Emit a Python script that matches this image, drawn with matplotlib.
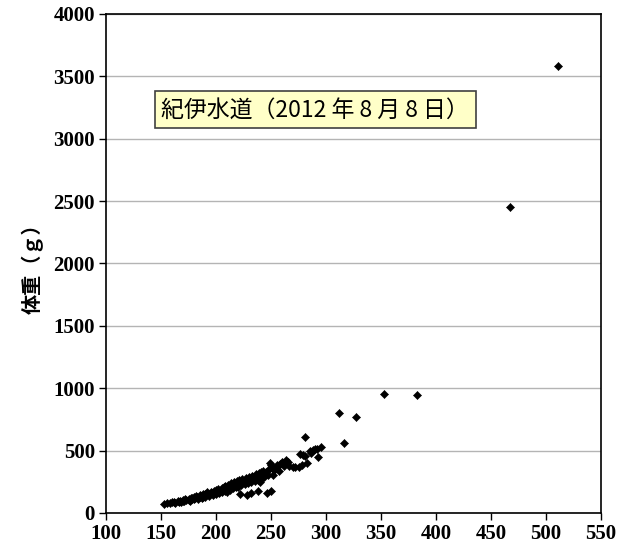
import matplotlib
matplotlib.use("Agg")
import matplotlib.pyplot as plt

# Body length (mm) and body weight (g) of individual fish
length_mm = [
    153, 155, 158, 160, 162, 163, 165, 166, 167, 168, 170, 170, 171, 172, 173,
    175, 175, 176, 177, 178, 178, 180, 180, 181, 182, 183, 184, 185, 185, 186,
    187, 188, 188, 189, 190, 190, 191, 192, 193, 194, 195, 195, 196, 197, 198,
    199, 200, 200, 201, 202, 203, 204, 205, 205, 206, 207, 208, 208, 209, 210,
    210, 211, 212, 213, 214, 215, 215, 216, 217, 218, 219, 220, 220, 221, 222,
    223, 224, 225, 226, 227, 228, 229, 230, 231, 232, 233, 234, 235, 236, 237,
    238, 239, 240, 240, 241, 241, 242, 243, 244, 245, 247, 248, 249, 250, 251,
    252, 253, 254, 255, 256, 257, 258, 260, 262, 264, 265, 266, 270, 272, 275,
    276, 278, 279, 281, 283, 285, 286, 288, 290, 292, 293, 295,
    228, 232, 238, 246, 250, 222,
    281, 312, 316, 327, 353, 383, 467, 511,
]
weight_g = [
    72, 80, 82, 85, 90, 80, 95, 88, 100, 92, 95, 105, 100, 110, 102,
    105, 115, 98, 120, 112, 122, 110, 128, 118, 135, 125, 115, 130, 145, 138,
    122, 150, 132, 140, 155, 130, 145, 165, 150, 138, 158, 172, 160, 148, 178,
    165, 155, 185, 172, 195, 160, 180, 200, 168, 188, 210, 175, 220, 192, 205,
    172, 228, 210, 188, 238, 215, 198, 248, 225, 205, 258, 235, 212, 265, 242,
    222, 272, 250, 232, 282, 260, 240, 292, 268, 248, 300, 278, 258, 310, 285,
    265, 322, 295, 250, 275, 330, 305, 338, 290, 330, 308, 350, 398, 385, 360,
    305, 345, 355, 385, 375, 340, 395, 405, 380, 425, 410, 377, 366, 372, 371,
    470, 385, 465, 455, 403, 497, 480, 505, 510, 513, 451, 529,
    144, 160, 175, 163, 180, 150,
    612, 804, 561, 770, 954, 946, 2453, 3583,
]

x_ticks = [100, 150, 200, 250, 300, 350, 400, 450, 500, 550]
y_ticks = [0, 500, 1000, 1500, 2000, 2500, 3000, 3500, 4000]
y_label = "体重（ｇ）"
title = "紀伊水道（2012 年 8 月 8 日）"

fig = plt.figure(figsize=(6.31, 5.51), dpi=100)
ax = fig.add_axes([0.168, 0.069, 0.7845, 0.9056])

ax.scatter(length_mm, weight_g, marker="D", s=17, color="black",
           edgecolors="black", linewidths=0.4, zorder=3)

ax.set_xlim(100, 550)
ax.set_ylim(0, 4000)
ax.set_xticks(x_ticks)
ax.set_yticks(y_ticks)

ax.yaxis.grid(True, color="#b4b4b4", linewidth=1.0)
ax.set_axisbelow(True)
for sp in ax.spines.values():
    sp.set_color("black")
    sp.set_linewidth(1.2)

ax.tick_params(axis="both", direction="out", length=5, width=1.0,
               colors="black", pad=3)
for lab in ax.get_xticklabels() + ax.get_yticklabels():
    lab.set_fontfamily("Liberation Serif")
    lab.set_fontweight("bold")
    lab.set_fontsize(15)

ax.set_ylabel(y_label, fontsize=14.5, fontweight="bold",
              family=["Noto Sans CJK JP", "DejaVu Sans"], labelpad=7)

ax.text(0.112, 0.808, title, transform=ax.transAxes, fontsize=16.5,
        family=["Noto Sans CJK JP", "DejaVu Sans"], color="black",
        va="center", ha="left",
        bbox=dict(boxstyle="square,pad=0.3", facecolor="#ffffc8",
                  edgecolor="#404040", linewidth=1.2))

fig.savefig("out.png", dpi=100)
